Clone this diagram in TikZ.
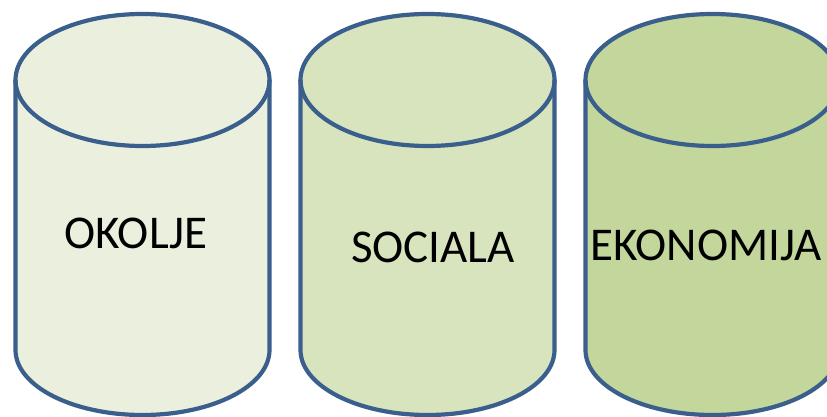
\documentclass[tikz,border=0pt]{standalone}
\usepackage{fontspec}
\setmainfont{Carlito}
\definecolor{edgeblue}{HTML}{3A5F8D}
\definecolor{fillA}{HTML}{EBF0DE}
\definecolor{fillB}{HTML}{D7E4BD}
\definecolor{fillC}{HTML}{C3D69B}
\tikzset{
  cylline/.style={draw=edgeblue, line width=4.2pt, line join=round},
  lbl/.style={font=\fontsize{47}{52}\selectfont, text=black, inner sep=0pt}
}
\newcommand{\mycyl}[2]{%
  \fill[#2] (#1-127,336) -- (#1-127,66) arc[start angle=180,end angle=360,x radius=127,y radius=65] -- (#1+127,336) -- cycle;
  \fill[#2] (#1,336) ellipse[x radius=127,y radius=66];
  \draw[cylline] (#1-127,336) -- (#1-127,66) arc[start angle=180,end angle=360,x radius=127,y radius=65] -- (#1+127,336);
  \draw[cylline] (#1,336) ellipse[x radius=127,y radius=66];
}
\begin{document}
\begin{tikzpicture}[x=1pt,y=1pt]
\useasboundingbox (0,0) rectangle (827,416);
\clip (0,0) rectangle (827,416);
\mycyl{142.5}{fillA}
\mycyl{427.5}{fillB}
\mycyl{712.5}{fillC}
\node[lbl] (okolje) at (136,183) {OKOLJE};
\node[lbl] (sociala) at (433,169) {SOCIALA};
\node[lbl] (ekonomija) at (706,171) {EKONOMIJA};
\end{tikzpicture}
\end{document}
